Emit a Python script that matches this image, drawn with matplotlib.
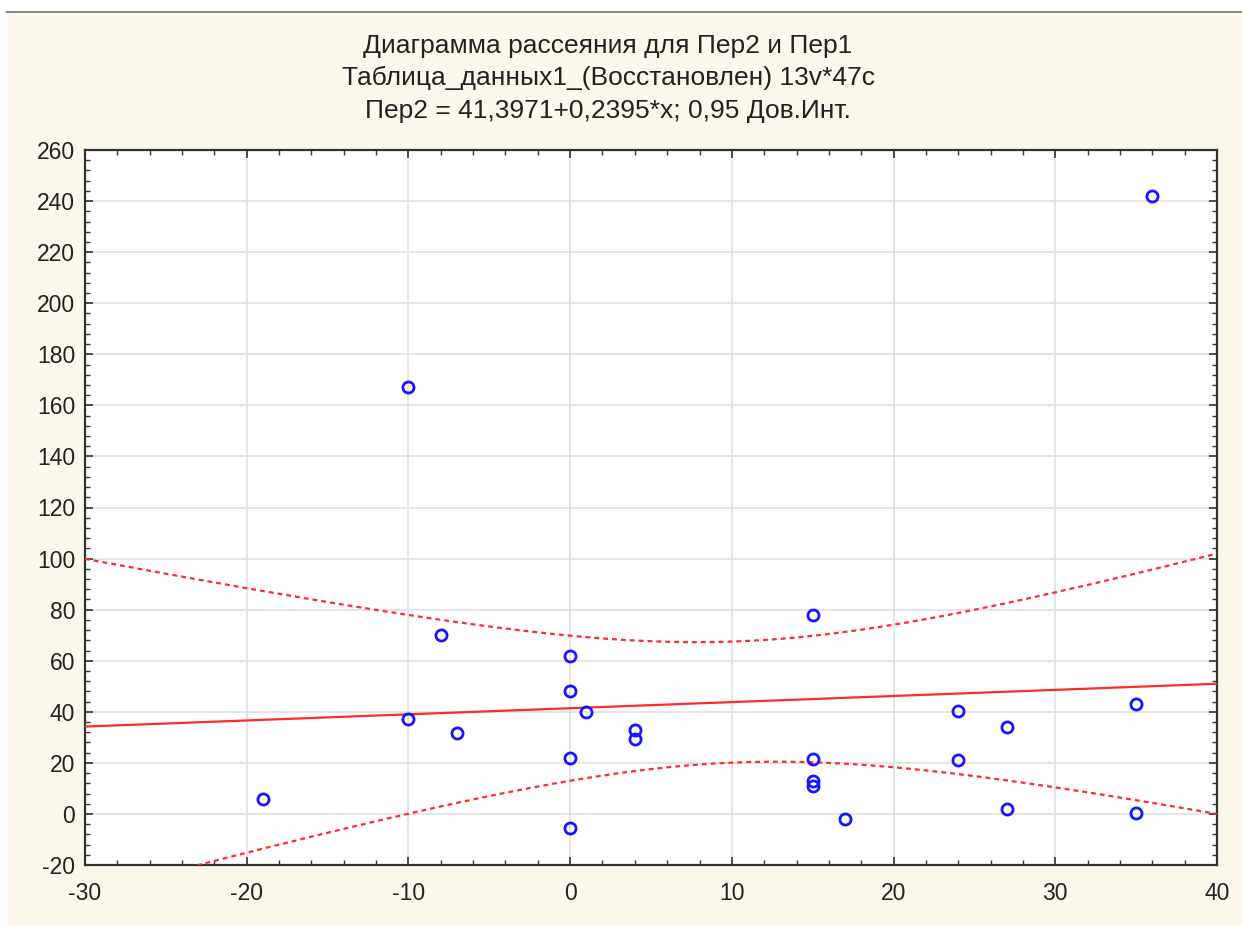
"""
Scatter plot Per2 vs Per1 with regression line and 0.95 band
"""
import numpy as np
import matplotlib
matplotlib.use('Agg')
import matplotlib.pyplot as plt
from matplotlib.patches import Rectangle
from matplotlib.lines import Line2D
from matplotlib.ticker import MultipleLocator

plt.rcParams['font.family'] = ['Liberation Sans', 'DejaVu Sans']
plt.rcParams['axes.unicode_minus'] = False

# values
per1 = [36, -10, -8, 15, 0, 0, 1, -10, -7, 4, 4, 0,
        -19, 0, 15, 15, 15, 17, 24, 24, 27, 27, 35, 35]
per2 = [242, 167, 70, 78, 62, 48, 40, 37, 31.5, 33, 29.5, 22,
        6, -5.5, 21.5, 13, 11, -2, 40.5, 21, 34, 2, 43, 0.5]

# fit from the title, band shape
intercept = 41.3971
slope = 0.2395
band_x_mean = 10.3
band_half_min = 23.7
band_half_slope = 1.52

title_lines = ['Диаграмма рассеяния для Пер2 и Пер1',
               'Таблица_данных1_(Восстановлен) 13v*47c',
               'Пер2 = 41,3971+0,2395*x; 0,95 Дов.Инт.']

W, H = 1242, 925
fig = plt.figure(figsize=(W / 100, H / 100), dpi=100)
fig.patch.set_facecolor('white')
fig.patches.append(Rectangle((8 / W, 0), 1 - 8 / W, 1 - 13 / H, transform=fig.transFigure,
                             facecolor='#fdf8ec', edgecolor='none', zorder=-10))
fig.lines.append(Line2D([7 / W, 1], [1 - 12 / H, 1 - 12 / H], transform=fig.transFigure,
                        color='#8a8a8a', lw=1.5))

ax = fig.add_axes([85 / W, 1 - 865 / H, (1217 - 85) / W, (865 - 150) / H])
ax.set_facecolor('white')

xs = np.linspace(-30, 40, 400)
fit = intercept + slope * xs
half = np.sqrt(band_half_min ** 2 + (band_half_slope * (xs - band_x_mean)) ** 2)

ax.plot(xs, fit, color='#ff2a2a', lw=1.6, zorder=3)
ax.plot(xs, fit + half, color='#ff2a2a', lw=1.6, ls=(0, (2.2, 1.8)), zorder=3)
ax.plot(xs, fit - half, color='#ff2a2a', lw=1.6, ls=(0, (2.2, 1.8)), zorder=3)
ax.plot(per1, per2, 'o', mfc='none', mec='#1515ff', ms=8, mew=2, zorder=4)

ax.set_xlim(-30, 40)
ax.set_ylim(-20, 260)
ax.xaxis.set_major_locator(MultipleLocator(10))
ax.xaxis.set_minor_locator(MultipleLocator(2))
ax.yaxis.set_major_locator(MultipleLocator(20))
ax.yaxis.set_minor_locator(MultipleLocator(4))
ax.grid(True, which='major', color='#e0e0e0', lw=1.2)
ax.set_axisbelow(True)
ax.tick_params(which='both', direction='in', top=True, right=True,
               colors='#333333', labelcolor='#222222', labelsize=16.5)
ax.tick_params(which='major', length=6, width=1.2)
ax.tick_params(which='minor', length=3.5, width=1)
ax.tick_params(axis='x', pad=12)
ax.tick_params(axis='y', pad=7)
for sp in ax.spines.values():
    sp.set_color('#333333')
    sp.set_linewidth(1.6)

for txt, yy in zip(title_lines, [46, 78, 111]):
    fig.text(608 / W, 1 - yy / H, txt, ha='center', va='center',
             fontsize=19, color='#222222')

fig.savefig('out.png', dpi=100, facecolor=fig.get_facecolor())
